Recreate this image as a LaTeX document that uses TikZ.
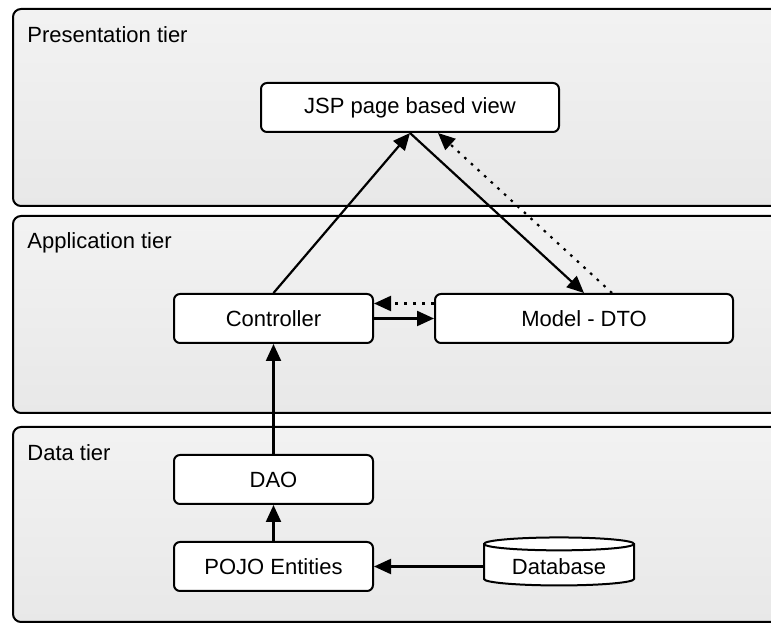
\documentclass[tikz,border=0pt]{standalone}
\usepackage{fontspec}
\setmainfont{Liberation Sans}
\usetikzlibrary{shapes.geometric, arrows.meta, positioning}
\tikzset{tier/.style={      % Light grey band for each tier
           draw, line width=1pt, rounded corners=4pt,
           top color=black!5, bottom color=black!9},
         tierlabel/.style={anchor=base west, inner sep=0pt,
           font=\fontsize{11}{13.2}\selectfont},
         box/.style={       % White component boxes
           draw, line width=1pt, rounded corners=3pt, fill=white,
           minimum width=99.5pt, minimum height=24.5pt,
           font=\fontsize{11}{13.2}\selectfont},
         store/.style={     % Database drum
           draw, line width=1pt, fill=white, cylinder,
           shape border rotate=90, aspect=0.12,
           minimum width=75pt, minimum height=24pt,
           font=\fontsize{11}{13.2}\selectfont},
         every edge/.style={
           draw, ->, >={Triangle[length=8.5pt,width=7.5pt]},
           line width=1.1pt},
         dots/.style={dash pattern=on 1.3pt off 3.2pt}}

\begin{document}
\begin{tikzpicture}[x=0.5pt, y=-0.5pt]
\useasboundingbox (0,0) rectangle (771,624);
\clip (0,0) rectangle (771,624);

% tiers
\draw[tier] (13,9) rectangle (800,206);
\draw[tier] (13,216) rectangle (800,413);
\draw[tier] (13,427) rectangle (800,622);
\node[tierlabel] (lpres) at (27,43) {Presentation tier};
\node[tierlabel] (lapp) at (27,249) {Application tier};
\node[tierlabel] (ldata) at (27,461) {Data tier};

% components
\node[box, minimum width=149pt] (jsp) at (410,107.5) {JSP page based view};
\node[box] (ctrl) at (273.5,318.5) {Controller};
\node[box, minimum width=149pt, right of=ctrl, node distance=155.25pt] (model) {Model - DTO};
\node[box, below of=ctrl, node distance=80.5pt] (dao) {DAO};
\node[box, below of=dao, node distance=43.5pt] (pojo) {POJO Entities};
\node[store, right of=pojo, node distance=142.75pt] (db) {Database};

% connections
\draw (ctrl.north) edge (jsp.south);
\draw (jsp.south) edge (model.north);
\draw ([xshift=14pt]model.north) edge[dots] ([xshift=14pt]jsp.south);
\draw (ctrl.east) edge (model.west);
\draw ([yshift=7.5pt]model.west) edge[dots] ([yshift=7.5pt]ctrl.east);
\draw (dao.north) edge (ctrl.south);
\draw (pojo.north) edge (dao.south);
\draw (db.west) edge (pojo.east);

\end{tikzpicture}
\end{document}
